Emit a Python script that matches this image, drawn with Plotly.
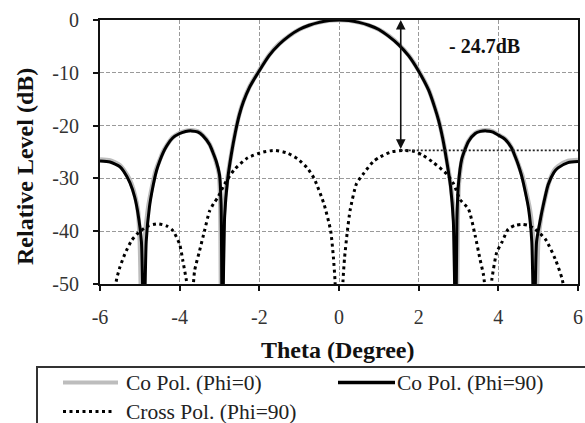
import plotly.graph_objects as go

# ---------------- data ----------------
theta_co90 = [-6.0, -5.75, -5.5, -5.4, -5.25, -5.13, -5.05, -4.96, -4.9, -4.84, -4.76, -4.67,
              -4.58, -4.5, -4.42, -4.33, -4.17, -4.0, -3.85, -3.7, -3.55, -3.42, -3.25, -3.17,
              -3.08, -3.0, -2.96, -2.93, -2.87, -2.8, -2.7, -2.6, -2.5, -2.4, -2.25, -2.0,
              -1.75, -1.5, -1.25, -1.0, -0.75, -0.5, -0.25, 0.0,
              0.25, 0.5, 0.75, 1.0, 1.25, 1.5, 1.75, 2.0, 2.25, 2.4, 2.5, 2.6, 2.7, 2.8,
              2.87, 2.93, 2.96, 3.0, 3.08, 3.17, 3.25, 3.42, 3.55, 3.7, 3.85, 4.0, 4.17,
              4.33, 4.42, 4.5, 4.58, 4.67, 4.76, 4.84, 4.9, 4.96, 5.05, 5.13, 5.25, 5.4,
              5.5, 5.75, 6.0]
level_co90 = [-26.7, -26.9, -27.8, -28.7, -30.8, -33.5, -36.5, -42.0, -62.0, -42.0, -35.5, -31.5,
              -28.5, -26.7, -25.2, -23.9, -22.3, -21.5, -21.1, -21.0, -21.2, -21.9, -23.6, -25.0,
              -26.8, -29.3, -35.0, -62.0, -37.0, -30.5, -25.3, -21.2, -17.9, -15.5, -12.8, -9.6,
              -6.7, -4.6, -3.0, -1.8, -1.0, -0.45, -0.1, 0.0,
              -0.1, -0.45, -1.0, -1.8, -3.1, -4.7, -6.8, -9.7, -13.3, -16.5, -19.0, -22.3, -26.5, -31.5,
              -38.0, -62.0, -38.0, -31.0, -26.4, -24.4, -23.0, -21.5, -21.1, -21.0, -21.2, -21.8, -22.6,
              -24.2, -25.8, -27.4, -29.4, -32.3, -35.8, -42.0, -62.0, -42.0, -38.0, -35.0, -31.2, -28.8,
              -28.0, -27.0, -26.8]

theta_co0 = [-6.0, -5.75, -5.5, -5.4, -5.25, -5.13, -5.05, -5.0, -4.94, -4.88, -4.79, -4.69,
             -4.6, -4.5, -4.42, -4.33, -4.17, -4.0, -3.85, -3.7, -3.55, -3.42, -3.25, -3.17,
             -3.09, -3.01, -2.98, -2.95, -2.89, -2.81, -2.7, -2.6, -2.5, -2.4, -2.25, -2.0,
             -1.75, -1.5, -1.25, -1.0, -0.75, -0.5, -0.25, 0.0,
             0.25, 0.5, 0.75, 1.0, 1.25, 1.5, 1.75, 2.0, 2.25, 2.4, 2.5, 2.6, 2.7, 2.81,
             2.89, 2.95, 2.98, 3.01, 3.09, 3.17, 3.25, 3.42, 3.55, 3.7, 3.85, 4.0, 4.17,
             4.33, 4.42, 4.5, 4.6, 4.69, 4.79, 4.88, 4.94, 5.0, 5.07, 5.15, 5.27, 5.4,
             5.5, 5.75, 6.0]
level_co0 = [-26.4, -26.6, -27.5, -28.4, -30.3, -33.0, -36.0, -42.0, -62.0, -42.0, -35.5, -31.5,
             -28.5, -26.5, -25.0, -23.8, -22.2, -21.4, -21.0, -20.9, -21.1, -21.8, -23.5, -24.9,
             -26.8, -29.3, -35.0, -62.0, -37.0, -30.5, -25.2, -21.1, -17.8, -15.4, -12.7, -9.5,
             -6.6, -4.5, -3.0, -1.8, -1.0, -0.45, -0.1, 0.0,
             -0.1, -0.45, -1.0, -1.8, -3.0, -4.6, -6.7, -9.6, -13.2, -16.4, -18.9, -22.2, -26.3, -31.5,
             -38.0, -62.0, -38.0, -31.0, -26.4, -24.3, -22.9, -21.4, -21.0, -20.9, -21.1, -21.7, -22.5,
             -24.1, -25.7, -27.3, -29.4, -32.3, -35.8, -42.0, -62.0, -42.0, -37.5, -34.5, -30.8, -28.5,
             -27.7, -26.7, -26.5]

theta_x90 = [-5.65, -5.58, -5.5, -5.375, -5.21, -5.04, -4.79, -4.54, -4.33, -4.17, -4.0, -3.92,
             -3.83, -3.72, -3.625, -3.5, -3.375, -3.25, -3.125, -3.04, -2.875, -2.625, -2.29,
             -1.9, -1.6, -1.3, -1.04, -0.8, -0.625, -0.375, -0.21, -0.14, -0.1, 0.0,
             0.1, 0.14, 0.21, 0.28, 0.44, 0.625, 0.86, 1.04, 1.3, 1.6, 1.9, 2.1, 2.37, 2.71,
             2.875, 3.04, 3.25, 3.42, 3.54, 3.63, 3.74, 3.84, 3.96, 4.09, 4.25, 4.42, 4.58,
             4.75, 4.92, 5.18, 5.43, 5.6, 5.67]
level_x90 = [-52.0, -49.0, -46.8, -44.3, -41.8, -40.3, -39.0, -38.6, -39.0, -39.9, -42.5, -45.6,
             -49.4, -56.0, -47.5, -43.7, -39.9, -36.2, -34.5, -33.6, -31.1, -28.3, -26.1,
             -25.0, -24.7, -25.2, -26.3, -28.0, -30.0, -34.9, -39.9, -45.0, -49.4, -70.0,
             -49.4, -45.0, -40.0, -36.0, -31.0, -29.0, -26.8, -25.9, -25.0, -24.7, -24.9, -25.6, -27.0, -29.2,
             -31.0, -34.0, -35.8, -40.9, -45.3, -48.4, -56.0, -49.0, -44.0, -42.1, -39.6, -38.9, -38.7,
             -38.9, -39.6, -41.5, -45.3, -49.0, -52.0]

series_names = ["Co Pol. (Phi=0)", "Co Pol. (Phi=90)", "Cross Pol. (Phi=90)"]
peak_theta = 1.55
cross_peak_db = -24.7
ref_line_end = 6.0
note_text = "- 24.7dB"
x_ticks = [-6, -4, -2, 0, 2, 4, 6]
x_tick_text = ["-6", "-4", "-2", "0", "2", "4", "6"]
y_ticks = [0, -10, -20, -30, -40, -50]
y_tick_text = ["0", "-10", "-20", "-30", "-40", "-50"]

# ---------------- geometry helpers (pixels -> paper) ----------------
W, H = 585, 423
ML, MR, MT, MB = 100, 7, 20, 139
PW, PH = W - ML - MR, H - MT - MB


def px(xp):
    return (xp - ML) / PW


def py(yp):
    return (H - MB - yp) / PH


FONT = "Liberation Serif"

fig = go.Figure()
fig.add_trace(go.Scatter(x=theta_co0, y=level_co0, mode="lines", name=series_names[0],
                         line=dict(color="#bdbdbd", width=4.5, shape="spline", smoothing=0.6)))
fig.add_trace(go.Scatter(x=theta_co90, y=level_co90, mode="lines", name=series_names[1],
                         line=dict(color="#000000", width=3, shape="spline", smoothing=0.6)))
fig.add_trace(go.Scatter(x=theta_x90, y=level_x90, mode="lines", name=series_names[2],
                         line=dict(color="#000000", width=3, dash="3px,3.5px",
                                   shape="spline", smoothing=0.6)))

# reference level line (dotted) at the cross-pol peak
fig.add_shape(type="line", xref="x", yref="y", x0=peak_theta, x1=ref_line_end,
              y0=cross_peak_db, y1=cross_peak_db,
              line=dict(color="#222", width=1.6, dash="2px,2px"))

annotations = [
    dict(x=peak_theta, y=0, ax=peak_theta, ay=cross_peak_db, xref="x", yref="y",
         axref="x", ayref="y", text="", showarrow=True, arrowhead=2, startarrowhead=2,
         arrowside="end+start", arrowwidth=1.6, arrowsize=1.2, startarrowsize=1.2,
         arrowcolor="#111", standoff=0, startstandoff=0),
    dict(x=3.66, y=-5.0, xref="x", yref="y", text=note_text, showarrow=False,
         xanchor="center", yanchor="middle",
         font=dict(family=FONT, size=20, color="#111", weight="bold")),
    dict(x=px(25), y=py(167), xref="paper", yref="paper", text="Relative Level (dB)",
         textangle=-90, showarrow=False, xanchor="center", yanchor="middle",
         font=dict(family=FONT, size=24, color="#111", weight="bold")),
    dict(x=px(338), y=py(350), xref="paper", yref="paper", text="Theta (Degree)",
         showarrow=False, xanchor="center", yanchor="middle",
         font=dict(family=FONT, size=24, color="#111", weight="bold")),
]

# ---------------- manual legend ----------------
shapes = [dict(type="rect", xref="paper", yref="paper", x0=px(37), x1=px(600),
               y0=py(367), y1=py(440), line=dict(color="#333", width=2), fillcolor="white",
               layer="above")]
legend_rows = [
    (series_names[0], 63, 118, 382.5, dict(color="#bdbdbd", width=4), 124),
    (series_names[1], 338, 395, 382.5, dict(color="#000", width=3.5), 395),
    (series_names[2], 63, 115, 411.5, dict(color="#000", width=3, dash="3px,3.5px"), 124),
]
for name, x0, x1, yc, ln, xt in legend_rows:
    shapes.append(dict(type="line", xref="paper", yref="paper", x0=px(x0), x1=px(x1),
                       y0=py(yc), y1=py(yc), line=ln, layer="above"))
    annotations.append(dict(x=px(xt), y=py(yc), xref="paper", yref="paper", text=name,
                            xanchor="left", yanchor="middle", showarrow=False,
                            font=dict(family=FONT, size=21.5, color="#222")))

fig.update_layout(
    width=W, height=H, margin=dict(l=ML, r=MR, t=MT, b=MB),
    paper_bgcolor="white", plot_bgcolor="white", showlegend=False,
    font=dict(family=FONT, size=20, color="#333"),
    annotations=annotations,
)
for s in shapes:
    fig.add_shape(**s)

fig.update_xaxes(range=[-6, 6], tickvals=x_ticks, ticktext=x_tick_text, ticks="outside",
                 ticklen=5, tickwidth=1.5, automargin=False,
                 tickcolor="#111", showline=True, linecolor="#111", linewidth=2, mirror=True,
                 showgrid=True, gridcolor="#9a9a9a", gridwidth=1, griddash="4px,2px",
                 zeroline=False, ticklabelstandoff=9,
                 tickfont=dict(family=FONT, size=20, color="#333"))
fig.update_yaxes(range=[-50, 0], tickvals=y_ticks, ticktext=y_tick_text, ticks="outside",
                 ticklen=5, tickwidth=1.5, automargin=False,
                 tickcolor="#111", showline=True, linecolor="#111", linewidth=2, mirror=True,
                 showgrid=True, gridcolor="#9a9a9a", gridwidth=1, griddash="4px,2px",
                 zeroline=False, ticklabelstandoff=10,
                 tickfont=dict(family=FONT, size=20, color="#333"))

fig.write_html("out.html", config={"displayModeBar": False},
               post_script="document.body.style.margin='0';")
